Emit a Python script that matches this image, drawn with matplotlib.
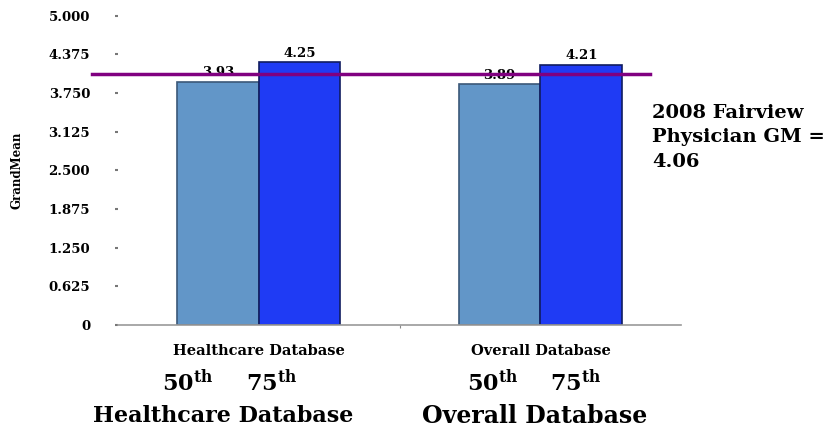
import numpy as np
import matplotlib.pyplot as plt

plt.rcParams['font.family'] = 'DejaVu Serif'
plt.rcParams['mathtext.fontset'] = 'dejavuserif'

# Grand mean scores by database and percentile
groups = ['Healthcare Database', 'Overall Database']
p50 = [3.93, 3.89]
p75 = [4.25, 4.21]
fairview_gm = 4.06
yticks = [0, 0.625, 1.250, 1.875, 2.500, 3.125, 3.750, 4.375, 5.000]
ytick_labels = ['0', '0.625', '1.250', '1.875', '2.500', '3.125', '3.750', '4.375', '5.000']

fig = plt.figure(figsize=(8.36, 4.29), dpi=100)
ax = fig.add_axes([0.141, 0.2424, 0.674, 0.721])

x = np.arange(len(groups))
w = 0.29
b1 = ax.bar(x - w / 2, p50, w, color='#6296C8', edgecolor='#3B5878', linewidth=1.2)
b2 = ax.bar(x + w / 2, p75, w, color='#1F3BF4', edgecolor='#101C60', linewidth=1.2)

for bars, vals in [(b1, p50), (b2, p75)]:
    for b, v in zip(bars, vals):
        ax.text(b.get_x() + b.get_width() / 2, v + 0.04, f'{v:.2f}',
                ha='center', va='bottom', fontsize=9.5, fontweight='bold')

ax.set_xlim(-0.5, 1.5)
ax.set_ylim(0, 5)
ax.set_yticks(yticks)
ax.set_yticklabels(ytick_labels, fontsize=9.5, fontweight='bold')
ax.tick_params(axis='y', length=2, width=1.5, color='#777777', pad=18)
ax.set_xticks([0.5])
ax.set_xticklabels([''])
ax.tick_params(axis='x', length=2, color='#888888')
for name in ['top', 'right', 'left']:
    ax.spines[name].set_visible(False)
ax.spines['bottom'].set_color('#999999')
ax.spines['bottom'].set_linewidth(1.2)
ax.set_ylabel('GrandMean', fontsize=8.5, fontweight='bold', labelpad=18)

for xi, g in zip(x, groups):
    ax.text(xi, -0.085, g, transform=ax.get_xaxis_transform(), ha='center',
            va='center', fontsize=10.5, fontweight='bold')

# Fairview reference line
ax.axhline(fairview_gm, xmin=-0.046, xmax=0.945, color='#800080', linewidth=2.5,
           clip_on=False, zorder=3)
fig.text(0.78, 0.68, f'2008 Fairview\nPhysician GM =\n{fairview_gm:.2f}',
         ha='left', va='center', fontsize=14, fontweight='bold', linespacing=1.45)

# Percentile captions under each group
for left, pct in [(0.194, '50'), (0.294, '75'), (0.559, '50'), (0.658, '75')]:
    fig.text(left, 0.107, r'$\mathbf{' + pct + r'^{th}}$', ha='left', va='center',
             fontsize=16)
fig.text(0.267, 0.03, 'Healthcare Database', ha='center', va='center',
         fontsize=16, fontweight='bold')
fig.text(0.639, 0.03, 'Overall Database', ha='center', va='center',
         fontsize=17, fontweight='bold')

fig.savefig('out.png', dpi=100)
